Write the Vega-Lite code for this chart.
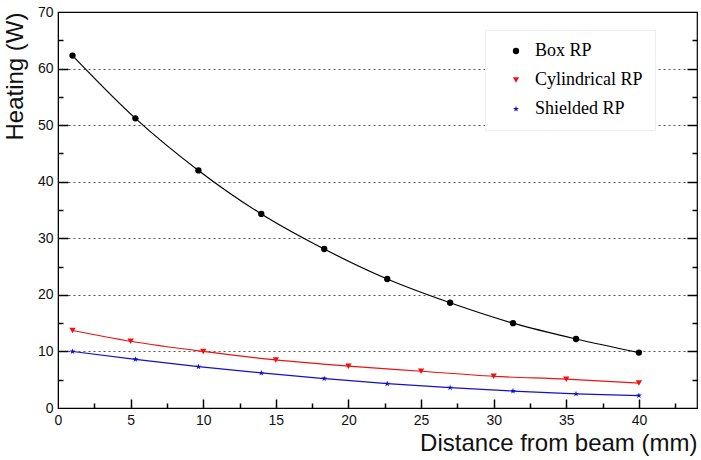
{
  "$schema": "https://vega.github.io/schema/vega-lite/v6.json",
  "width": 639,
  "height": 396,
  "autosize": {"type": "none"},
  "padding": {"left": 58, "top": 12, "right": 4, "bottom": 52},
  "background": "white",
  "data": {
    "values": [
      {"series": "Box RP", "d": 1, "heat": 62.3},
      {"series": "Box RP", "d": 5.33, "heat": 51.2},
      {"series": "Box RP", "d": 9.67, "heat": 42.0},
      {"series": "Box RP", "d": 14, "heat": 34.3},
      {"series": "Box RP", "d": 18.33, "heat": 28.1},
      {"series": "Box RP", "d": 22.67, "heat": 22.8},
      {"series": "Box RP", "d": 27, "heat": 18.6},
      {"series": "Box RP", "d": 31.33, "heat": 15.0},
      {"series": "Box RP", "d": 35.67, "heat": 12.2},
      {"series": "Box RP", "d": 40, "heat": 9.8},
      {"series": "Cylindrical RP", "d": 1, "heat": 13.7},
      {"series": "Cylindrical RP", "d": 5, "heat": 11.8},
      {"series": "Cylindrical RP", "d": 10, "heat": 10.0},
      {"series": "Cylindrical RP", "d": 15, "heat": 8.5},
      {"series": "Cylindrical RP", "d": 20, "heat": 7.4},
      {"series": "Cylindrical RP", "d": 25, "heat": 6.5},
      {"series": "Cylindrical RP", "d": 30, "heat": 5.6},
      {"series": "Cylindrical RP", "d": 35, "heat": 5.1},
      {"series": "Cylindrical RP", "d": 40, "heat": 4.4},
      {"series": "Shielded RP", "d": 1, "heat": 10.0},
      {"series": "Shielded RP", "d": 5.33, "heat": 8.6},
      {"series": "Shielded RP", "d": 9.67, "heat": 7.3},
      {"series": "Shielded RP", "d": 14, "heat": 6.2},
      {"series": "Shielded RP", "d": 18.33, "heat": 5.2},
      {"series": "Shielded RP", "d": 22.67, "heat": 4.3},
      {"series": "Shielded RP", "d": 27, "heat": 3.6},
      {"series": "Shielded RP", "d": 31.33, "heat": 3.0},
      {"series": "Shielded RP", "d": 35.67, "heat": 2.5},
      {"series": "Shielded RP", "d": 40, "heat": 2.2}
    ]
  },
  "encoding": {
    "color": {
      "field": "series", "type": "nominal",
      "scale": {"domain": ["Box RP", "Cylindrical RP", "Shielded RP"], "range": ["#000000", "#ee1111", "#1111cc"]}
    }
  },
  "layer": [
    {
      "transform": [{"filter": "datum.series === 'Box RP'"}],
      "mark": {"type": "line", "interpolate": "monotone", "strokeWidth": 1.2},
      "encoding": {
        "x": {
          "field": "d", "type": "quantitative",
          "scale": {"domain": [0, 44], "nice": false, "zero": false},
          "axis": {
            "title": "Distance from beam (mm)",
            "titleAnchor": "end",
            "titlePadding": 4,
            "values": [0, 5, 10, 15, 20, 25, 30, 35, 40],
            "ticks": false,
            "labelPadding": 5,
            "grid": false
          }
        },
        "y": {
          "field": "heat", "type": "quantitative",
          "scale": {"domain": [0, 70], "nice": false},
          "axis": {
            "title": "Heating (W)",
            "titleAnchor": "end",
            "titlePadding": 10,
            "values": [0, 10, 20, 30, 40, 50, 60, 70],
            "ticks": false,
            "labelPadding": 5,
            "grid": true,
            "gridDash": [2, 3],
            "gridColor": "#555",
            "gridWidth": 1,
            "gridOpacity": {"condition": {"test": "datum.value > 0 && datum.value < 70", "value": 1}, "value": 0}
          }
        }
      }
    },
    {
      "transform": [{"filter": "datum.series === 'Cylindrical RP'"}],
      "mark": {"type": "line", "interpolate": "monotone", "strokeWidth": 1.2},
      "encoding": {
        "x": {
          "field": "d", "type": "quantitative",
          "scale": {"domain": [0, 44], "nice": false, "zero": false},
          "axis": {
            "orient": "bottom", "offset": -9,
            "title": null, "labels": false, "domain": false, "grid": false,
            "values": [5, 10, 15, 20, 25, 30, 35, 40],
            "ticks": true, "tickSize": 9
          }
        },
        "y": {
          "field": "heat", "type": "quantitative",
          "scale": {"domain": [0, 70], "nice": false},
          "axis": {
            "orient": "left", "offset": -10,
            "title": null, "labels": false, "domain": false, "grid": false,
            "values": [10, 20, 30, 40, 50, 60],
            "ticks": true, "tickSize": 10
          }
        }
      }
    },
    {
      "transform": [{"filter": "datum.series === 'Shielded RP'"}],
      "mark": {"type": "line", "interpolate": "monotone", "strokeWidth": 1.2},
      "encoding": {
        "x": {
          "field": "d", "type": "quantitative",
          "scale": {"domain": [0, 44], "nice": false, "zero": false},
          "axis": {
            "orient": "bottom", "offset": -5,
            "title": null, "labels": false, "domain": false, "grid": false,
            "values": [2.5, 7.5, 12.5, 17.5, 22.5, 27.5, 32.5, 37.5, 42.5],
            "ticks": true, "tickSize": 5
          }
        },
        "y": {
          "field": "heat", "type": "quantitative",
          "scale": {"domain": [0, 70], "nice": false},
          "axis": {
            "orient": "left", "offset": -5,
            "title": null, "labels": false, "domain": false, "grid": false,
            "values": [5, 15, 25, 35, 45, 55, 65],
            "ticks": true, "tickSize": 5
          }
        }
      }
    },
    {
      "transform": [{"filter": "datum.series === 'Box RP'"}],
      "mark": {"type": "point", "filled": true, "opacity": 1},
      "encoding": {
        "x": {
          "field": "d", "type": "quantitative",
          "scale": {"domain": [0, 44], "nice": false, "zero": false},
          "axis": null
        },
        "y": {
          "field": "heat", "type": "quantitative",
          "scale": {"domain": [0, 70], "nice": false},
          "axis": {
            "orient": "right", "offset": -10,
            "title": null, "labels": false, "domain": false, "grid": false,
            "values": [10, 20, 30, 40, 50, 60],
            "ticks": true, "tickSize": 10
          }
        },
        "shape": {
          "field": "series", "type": "nominal",
          "scale": {"domain": ["Box RP", "Cylindrical RP", "Shielded RP"], "range": ["circle", "triangle-down", "M0,-1L0.22,-0.31L0.95,-0.31L0.36,0.12L0.59,0.81L0,0.38L-0.59,0.81L-0.36,0.12L-0.95,-0.31L-0.22,-0.31Z"]}
        },
        "size": {"value": 40}
      }
    },
    {
      "transform": [{"filter": "datum.series !== 'Box RP'"}],
      "mark": {"type": "point", "filled": true, "opacity": 1},
      "encoding": {
        "x": {
          "field": "d", "type": "quantitative",
          "scale": {"domain": [0, 44], "nice": false, "zero": false},
          "axis": null
        },
        "y": {
          "field": "heat", "type": "quantitative",
          "scale": {"domain": [0, 70], "nice": false},
          "axis": {
            "orient": "right", "offset": -5,
            "title": null, "labels": false, "domain": false, "grid": false,
            "values": [5, 15, 25, 35, 45, 55, 65],
            "ticks": true, "tickSize": 5
          }
        },
        "shape": {
          "field": "series", "type": "nominal",
          "scale": {"domain": ["Box RP", "Cylindrical RP", "Shielded RP"], "range": ["circle", "triangle-down", "M0,-1L0.22,-0.31L0.95,-0.31L0.36,0.12L0.59,0.81L0,0.38L-0.59,0.81L-0.36,0.12L-0.95,-0.31L-0.22,-0.31Z"]}
        },
        "size": {"value": 40}
      }
    }
  ],
  "resolve": {"axis": {"y": "independent", "x": "independent"}},
  "config": {
    "view": {"stroke": "black", "strokeWidth": 1.2},
    "axis": {
      "labelFont": "Liberation Sans",
      "labelFontSize": 14,
      "labelColor": "#111",
      "titleFont": "Liberation Sans",
      "titleFontSize": 24,
      "titleFontWeight": "normal",
      "titleColor": "#111",
      "domainColor": "black",
      "tickColor": "black",
      "tickWidth": 1.5,
      "labelFlush": false,
      "zindex": 1
    },
    "legend": {
      "title": null,
      "orient": "none",
      "legendX": 427,
      "legendY": 18,
      "padding": 12,
      "symbolOffset": 10,
      "fillColor": "white",
      "strokeColor": "#eeeeee",
      "labelFont": "Liberation Serif",
      "labelFontSize": 18,
      "rowPadding": 11,
      "symbolSize": 40,
      "symbolStrokeWidth": 0,
      "labelOffset": 10,
      "zindex": 2
    }
  }
}
